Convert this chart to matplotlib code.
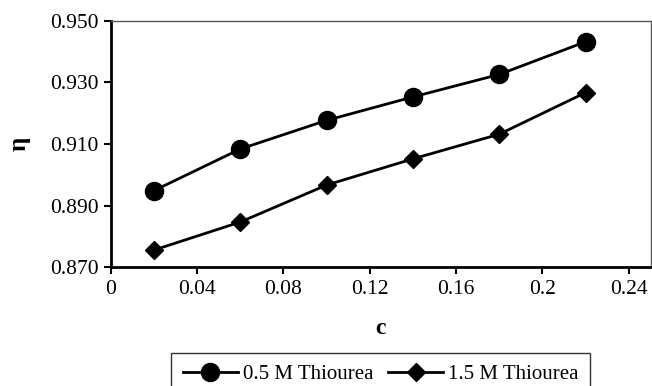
import matplotlib
matplotlib.use("Agg")
import matplotlib.pyplot as plt
from matplotlib.ticker import FormatStrFormatter

c_vals = [0.02, 0.06, 0.10, 0.14, 0.18, 0.22]
eta_05M = [0.8949, 0.9084, 0.9177, 0.9253, 0.9326, 0.9432]
eta_15M = [0.8756, 0.8847, 0.8967, 0.9052, 0.9132, 0.9267]
series_labels = ["0.5 M Thiourea", "1.5 M Thiourea"]
x_ticks = [0, 0.04, 0.08, 0.12, 0.16, 0.2, 0.24]
x_tick_labels = ["0", "0.04", "0.08", "0.12", "0.16", "0.2", "0.24"]
y_ticks = [0.870, 0.890, 0.910, 0.930, 0.950]

plt.rcParams['font.family'] = ['Liberation Serif', 'DejaVu Serif']

fig = plt.figure(figsize=(6.52, 3.86), dpi=100)
# axes box: left ~111px, right ~651px, top ~21px, bottom ~267px
ax = fig.add_axes([0.170, 0.3075, 0.828, 0.6385])

ax.plot(c_vals, eta_05M, color="k", lw=2, marker="o", ms=13, label=series_labels[0])
ax.plot(c_vals, eta_15M, color="k", lw=2, marker="D", ms=9.5, label=series_labels[1])

ax.set_xlim(0, 0.2502)
ax.set_ylim(0.870, 0.950)
ax.set_xticks(x_ticks)
ax.set_xticklabels(x_tick_labels)
ax.set_yticks(y_ticks)
ax.yaxis.set_major_formatter(FormatStrFormatter("%.3f"))
ax.tick_params(direction="out", length=5, width=1.5, labelsize=15.5, colors="k", pad=4)

for s in ["left", "bottom"]:
    ax.spines[s].set_linewidth(2)
    ax.spines[s].set_color("k")
for s in ["top", "right"]:
    ax.spines[s].set_linewidth(1)
    ax.spines[s].set_color("#555555")

ax.set_xlabel("c", fontsize=17, fontweight="bold", labelpad=14)
ax.set_ylabel("η", fontsize=18, fontweight="bold", labelpad=14)

leg = ax.legend(loc="upper center", bbox_to_anchor=(0.5, -0.349), ncol=2, fontsize=15,
                frameon=True, fancybox=False, edgecolor="k", handlelength=2.65,
                handletextpad=0.25, columnspacing=0.7, borderpad=0.55, borderaxespad=0)
leg.get_frame().set_linewidth(1)

fig.savefig("out.png", dpi=100)
